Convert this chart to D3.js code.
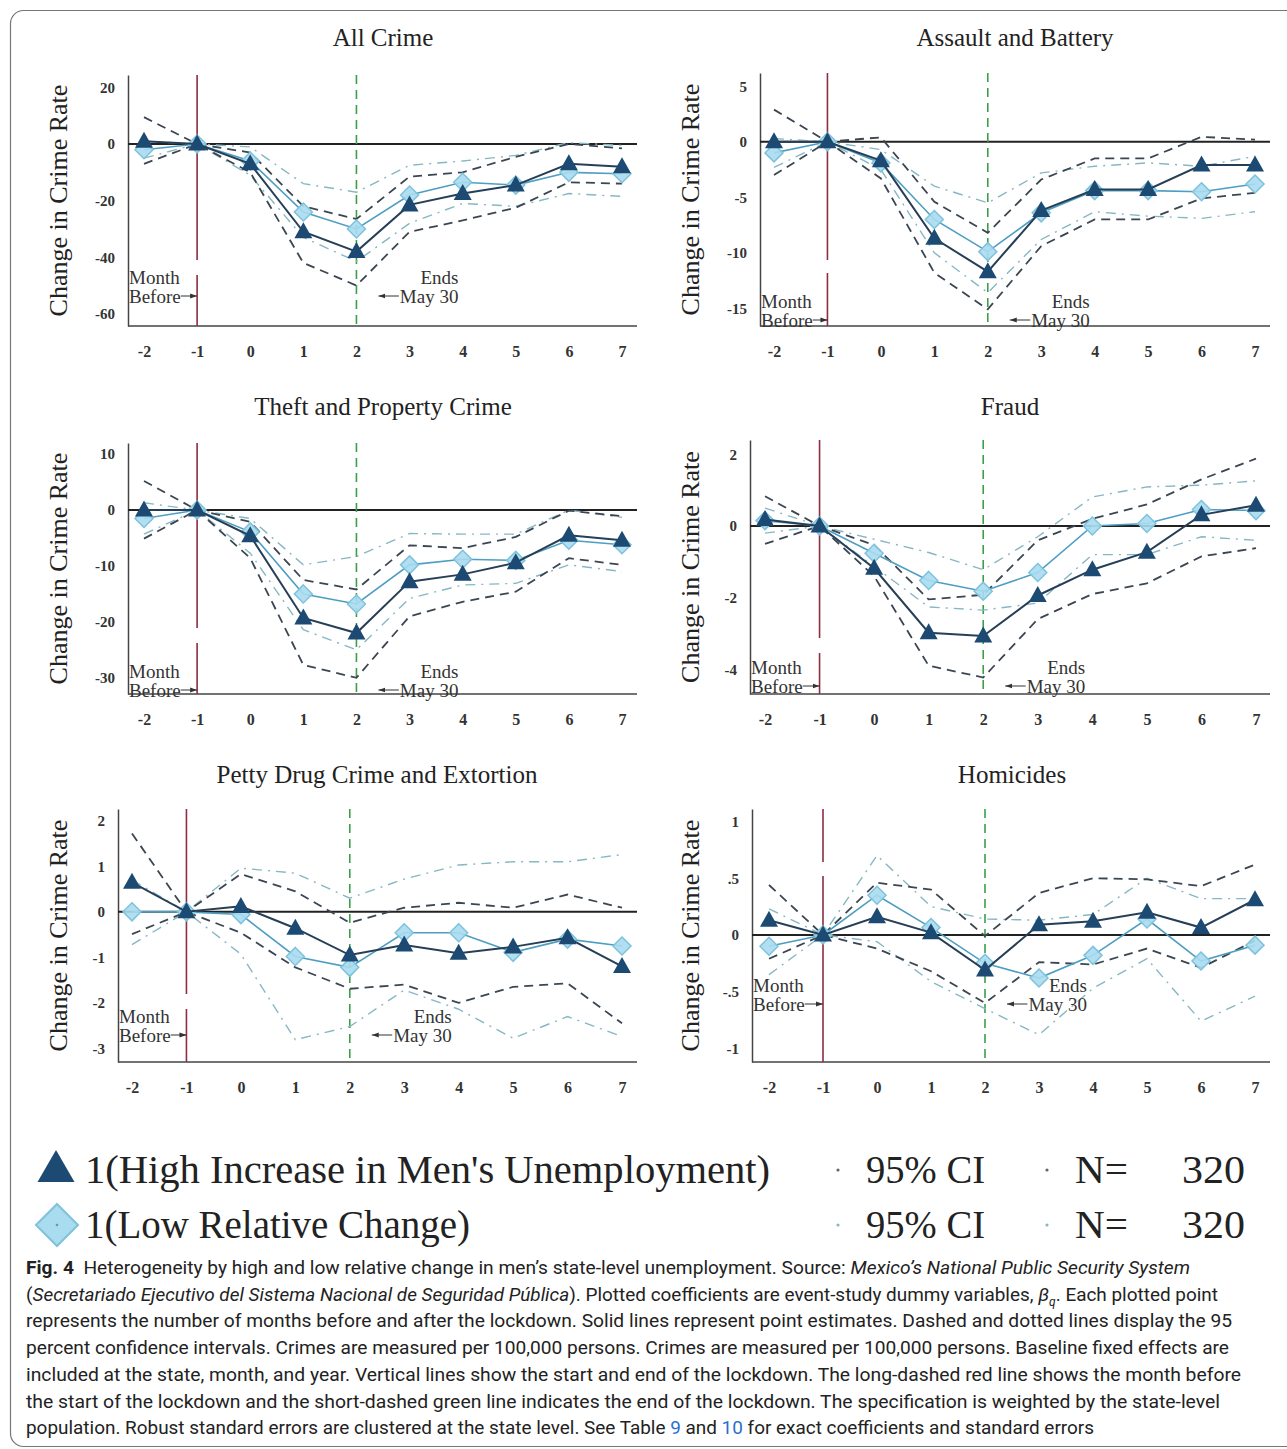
<!DOCTYPE html>
<html><head><meta charset="utf-8">
<script src="https://cdn.jsdelivr.net/npm/d3@7"></script>
<style>body{margin:0;background:#fff}</style>
</head><body>
<svg id="fig" width="1287" height="1449"></svg>
<script>
// ---------- data ----------
const months = [-2, -1, 0, 1, 2, 3, 4, 5, 6, 7];
const monthLabels = ["-2", "-1", "0", "1", "2", "3", "4", "5", "6", "7"];
const panelTitles = ["All Crime", "Assault and Battery", "Theft and Property Crime", "Fraud", "Petty Drug Crime and Extortion", "Homicides"];
const yTickValues = [[20, 0, -20, -40, -60], [5, 0, -5, -10, -15], [10, 0, -10, -20, -30], [2, 0, -2, -4], [2, 1, 0, -1, -2, -3], [1, 0.5, 0, -0.5, -1]];
const yTickLabels = [["20", "0", "-20", "-40", "-60"], ["5", "0", "-5", "-10", "-15"], ["10", "0", "-10", "-20", "-30"], ["2", "0", "-2", "-4"], ["2", "1", "0", "-1", "-2", "-3"], ["1", ".5", "0", "-.5", "-1"]];

// All Crime
const allHigh   = [1, 0, -7, -31, -38, -21.5, -17.5, -14.5, -7, -8];
const allLow    = [-2, 0, -6, -24, -30, -18, -13.5, -14.5, -10, -10.5];
const allHighUp = [9.5, 0, -3, -22, -26.5, -11.5, -10, -4.5, 0, -1.5];
const allHighLo = [-7, 0, -10, -42, -50, -31, -27, -22.5, -13.5, -14];
const allLowUp  = [1, 0, -1, -14, -17, -7.5, -6, -4, 0.5, -0.5];
const allLowLo  = [-5, 0, -11, -33, -41.5, -28, -21, -22, -17.5, -18.5];
// Assault and Battery
const asbHigh   = [0, 0, -1.7, -8.7, -11.7, -6.2, -4.3, -4.3, -2.1, -2.1];
const asbLow    = [-1.0, 0, -1.9, -7.0, -9.9, -6.4, -4.4, -4.4, -4.5, -3.8];
const asbHighUp = [2.9, 0, 0.4, -5.4, -8.2, -3.4, -1.5, -1.5, 0.45, 0.2];
const asbHighLo = [-3.0, 0, -3.3, -11.8, -15.1, -9.4, -7.0, -7.0, -5.1, -4.6];
const asbLowUp  = [0.3, 0, -0.7, -4.0, -5.5, -2.8, -2.2, -1.9, -2.2, -1.3];
const asbLowLo  = [-2.3, 0, -2.5, -10.0, -13.6, -8.8, -6.3, -6.7, -6.9, -6.3];
// Theft and Property Crime
const thfHigh   = [0, 0, -4.6, -19.3, -22, -12.8, -11.5, -9.4, -4.5, -5.4];
const thfLow    = [-1.5, 0, -3.9, -15, -16.8, -9.8, -8.8, -9.0, -5.4, -6.2];
const thfHighUp = [5.2, 0, -2.1, -12.5, -14.2, -6.3, -6.8, -4.8, -0.1, -1.1];
const thfHighLo = [-5.1, 0, -8.6, -27.7, -30, -19, -16.4, -14.6, -8.6, -9.8];
const thfLowUp  = [1.3, 0, -1.5, -9.8, -8.3, -4.2, -4.3, -4.3, 0, -1.3];
const thfLowLo  = [-4.3, 0, -7.7, -21.4, -25, -15.8, -13.4, -13.1, -9.8, -11];
// Fraud
const frdHigh   = [0.18, 0, -1.18, -2.98, -3.07, -1.94, -1.22, -0.73, 0.31, 0.58];
const frdLow    = [0.15, 0, -0.76, -1.52, -1.82, -1.3, 0, 0.07, 0.46, 0.43];
const frdHighUp = [0.83, 0, -0.53, -2.05, -1.92, -0.4, 0.2, 0.6, 1.3, 1.88];
const frdHighLo = [-0.5, 0, -1.4, -3.9, -4.23, -2.6, -1.9, -1.6, -0.85, -0.62];
const frdLowUp  = [0.5, 0, -0.37, -0.74, -1.22, -0.3, 0.81, 1.09, 1.14, 1.26];
const frdLowLo  = [-0.2, 0, -1.13, -2.26, -2.35, -2.15, -0.8, -0.8, -0.3, -0.4];
// Petty Drug Crime and Extortion
const drgHigh   = [0.65, 0, 0.12, -0.36, -0.95, -0.73, -0.91, -0.77, -0.57, -1.2];
const drgLow    = [0, 0, -0.06, -0.98, -1.22, -0.46, -0.46, -0.89, -0.6, -0.75];
const drgHighUp = [1.72, 0, 0.83, 0.45, -0.24, 0.09, 0.2, 0.09, 0.38, 0.09];
const drgHighLo = [-0.49, 0, -0.46, -1.22, -1.69, -1.6, -2.0, -1.65, -1.57, -2.45];
const drgLowUp  = [0.7, 0, 0.96, 0.85, 0.3, 0.72, 1.03, 1.1, 1.1, 1.26];
const drgLowLo  = [-0.72, 0, -0.93, -2.81, -2.52, -1.72, -2.14, -2.78, -2.3, -2.74];
// Homicides
const homHigh   = [0.13, 0, 0.16, 0.02, -0.31, 0.09, 0.12, 0.2, 0.065, 0.31];
const homLow    = [-0.1, 0, 0.35, 0.065, -0.25, -0.38, -0.18, 0.14, -0.23, -0.09];
const homHighUp = [0.44, 0, 0.46, 0.4, -0.01, 0.37, 0.5, 0.49, 0.43, 0.62];
const homHighLo = [-0.21, 0, -0.12, -0.32, -0.6, -0.24, -0.26, -0.12, -0.29, -0.05];
const homLowUp  = [0.23, 0, 0.7, 0.25, 0.14, 0.13, 0.18, 0.5, 0.32, 0.32];
const homLowLo  = [-0.35, 0, -0.06, -0.41, -0.65, -0.88, -0.47, -0.21, -0.76, -0.54];

const legendLabels = ["1(High Increase in Men's Unemployment)", "1(Low Relative Change)"];
const ciLabel = "95% CI";
const nLabel = "N=";
const nValues = ["320", "320"];

// ---------- assemble ----------
const series = [
  [allHigh, allLow, allHighUp, allHighLo, allLowUp, allLowLo],
  [asbHigh, asbLow, asbHighUp, asbHighLo, asbLowUp, asbLowLo],
  [thfHigh, thfLow, thfHighUp, thfHighLo, thfLowUp, thfLowLo],
  [frdHigh, frdLow, frdHighUp, frdHighLo, frdLowUp, frdLowLo],
  [drgHigh, drgLow, drgHighUp, drgHighLo, drgLowUp, drgLowLo],
  [homHigh, homLow, homHighUp, homHighLo, homLowUp, homLowLo]
];

// layout (pixels / axis extents)
const layout = [
  {x0:128, x1:637, xa:144, xb:622, yTop:75,  yBot:326,  yMin:-64.3, yMax:24.4, tx:383,  ty:46,  yl:58,  ann:-49, red:"185,15,600"},
  {x0:760, x1:1270,xa:774, xb:1255,yTop:73,  yBot:326,  yMin:-16.6, yMax:6.2,  tx:1015, ty:46,  yl:690, ann:-25, red:"187,13,600"},
  {x0:128, x1:637, xa:144, xb:622, yTop:443, yBot:694,  yMin:-32.9, yMax:12,   tx:383,  ty:415, yl:58,  ann:-23, red:"185,15,600"},
  {x0:750, x1:1270,xa:765, xb:1256,yTop:440, yBot:694,  yMin:-4.69, yMax:2.4,  tx:1010, ty:415, yl:690, ann:-27, red:"198,15,600"},
  {x0:118, x1:637, xa:132, xb:622, yTop:809, yBot:1062, yMin:-3.3,  yMax:2.26, tx:377,  ty:783, yl:58,  ann:-46, red:"185,15,600"},
  {x0:752, x1:1270,xa:769, xb:1255,yTop:809, yBot:1062, yMin:-1.12, yMax:1.11, tx:1012, ty:783, yl:690, ann:-77, red:"53,14,600"}
];

const serif = "'Liberation Serif','Times New Roman',serif";
const C = {
  high: "#1c4a72", highLine: "#263f57", low: "#a9dcef", lowStroke: "#7ec2dc", lowLine: "#4d9ec2",
  ciHigh: "#3b4652", ciLow: "#86b8c3", red: "#8c2f42", green: "#3a9f47", axis: "#444"
};

const svg = d3.select("#fig");
const defs = svg.append("defs");
defs.append("marker").attr("id","arr").attr("viewBox","0 0 10 10").attr("refX",10).attr("refY",5)
  .attr("markerWidth",7).attr("markerHeight",7).attr("orient","auto")
  .append("path").attr("d","M0,1.5 L10,5 L0,8.5 z").attr("fill","#333");

// border
svg.append("rect").attr("x",10.5).attr("y",10.5).attr("width",1300).attr("height",1436).attr("rx",13)
  .attr("fill","none").attr("stroke","#777").attr("stroke-width",1.2);

const triPath = "M0,-9.5 L9,6.5 L-9,6.5 Z";
const diaPath = "M0,-9 L9,0 L0,9 L-9,0 Z";

series.forEach((s, i) => {
  const L = layout[i];
  const x = d3.scaleLinear().domain([-2, 7]).range([L.xa, L.xb]);
  const y = d3.scaleLinear().domain([L.yMin, L.yMax]).range([L.yBot, L.yTop]);
  const g = svg.append("g");

  g.append("text").attr("x", L.tx).attr("y", L.ty).attr("text-anchor","middle")
    .style("font-family", serif).style("font-size","25px").attr("fill","#222").text(panelTitles[i]);
  g.append("text").attr("transform", `translate(${L.yl},${(L.yTop + L.yBot) / 2}) rotate(-90)`)
    .attr("text-anchor","middle").attr("dominant-baseline","central")
    .style("font-family", serif).style("font-size","26px").attr("fill","#222").text("Change in Crime Rate");

  // y axis
  const ya = g.append("g").attr("transform", `translate(${L.x0},0)`)
    .call(d3.axisLeft(y).tickValues(yTickValues[i]).tickFormat((d, j) => yTickLabels[i][j]).tickSize(0).tickPadding(13));
  ya.select(".domain").attr("stroke", C.axis).attr("stroke-width", 1.5);
  ya.selectAll("text").style("font-family", serif).style("font-size","15px").style("font-weight","600").attr("fill","#333");
  // x axis
  const xa = g.append("g").attr("transform", `translate(0,${L.yBot})`)
    .call(d3.axisBottom(x).tickValues(months).tickFormat((d, j) => monthLabels[j]).tickSize(0).tickPadding(20));
  xa.select(".domain").remove();
  xa.selectAll("text").style("font-family", serif).style("font-size","16px").style("font-weight","600").attr("fill","#333");
  g.append("line").attr("x1", L.x0).attr("x2", L.x1).attr("y1", L.yBot).attr("y2", L.yBot)
    .attr("stroke", C.axis).attr("stroke-width", 1.5);

  // zero line
  g.append("line").attr("x1", L.x0).attr("x2", L.x1).attr("y1", y(0)).attr("y2", y(0))
    .attr("stroke", "#222").attr("stroke-width", 2);

  // vertical reference lines
  g.append("line").attr("x1", x(-1)).attr("x2", x(-1)).attr("y1", L.yTop).attr("y2", L.yBot)
    .attr("stroke", C.red).attr("stroke-width", 1.6).attr("stroke-dasharray", L.red);
  g.append("line").attr("x1", x(2)).attr("x2", x(2)).attr("y1", L.yTop).attr("y2", L.yBot)
    .attr("stroke", C.green).attr("stroke-width", 1.6).attr("stroke-dasharray", "9,6");

  const line = d3.line().x((d, j) => x(months[j])).y(d => y(d));
  const [hi, lo, hiU, hiL, loU, loL] = s;
  [loU, loL].forEach(arr => g.append("path").attr("d", line(arr)).attr("fill","none")
    .attr("stroke", C.ciLow).attr("stroke-width", 1.4).attr("stroke-dasharray","10,6,2,6"));
  [hiU, hiL].forEach(arr => g.append("path").attr("d", line(arr)).attr("fill","none")
    .attr("stroke", C.ciHigh).attr("stroke-width", 1.8).attr("stroke-dasharray","9,6"));

  g.append("path").attr("d", line(lo)).attr("fill","none").attr("stroke", C.lowLine).attr("stroke-width", 1.6);
  g.selectAll(".dia").data(lo).enter().append("path").attr("d", diaPath)
    .attr("transform", (d, j) => `translate(${x(months[j])},${y(d)})`)
    .attr("fill", C.low).attr("fill-opacity", 0.9).attr("stroke", C.lowStroke).attr("stroke-width", 1.5);
  g.append("path").attr("d", line(hi)).attr("fill","none").attr("stroke", C.highLine).attr("stroke-width", 2);
  g.selectAll(".tri").data(hi).enter().append("path").attr("d", triPath)
    .attr("transform", (d, j) => `translate(${x(months[j])},${y(d)})`)
    .attr("fill", C.high);

  // annotations
  const ay = L.yBot + L.ann;
  const addText = (tx, ty, anchor, str) => g.append("text").attr("x", tx).attr("y", ty).attr("text-anchor", anchor)
      .attr("dominant-baseline","central").attr("fill","#333")
      .style("font-family", serif).style("font-size","19px").text(str);
  addText(L.x0 + 1, ay, "start", "Month");
  const bt = addText(L.x0 + 1, ay + 19, "start", "Before");
  const bw = bt.node().getComputedTextLength();
  g.append("line").attr("x1", L.x0 + 1 + bw).attr("x2", x(-1)).attr("y1", ay + 19).attr("y2", ay + 19)
    .attr("stroke","#333").attr("stroke-width",1).attr("marker-end","url(#arr)");
  const ex = x(2) + 102;
  addText(ex, ay, "end", "Ends");
  const mt = addText(ex, ay + 19, "end", "May 30");
  const mw = mt.node().getComputedTextLength();
  g.append("line").attr("x1", ex - mw - 1).attr("x2", x(2) + 22).attr("y1", ay + 19).attr("y2", ay + 19)
    .attr("stroke","#333").attr("stroke-width",1).attr("marker-end","url(#arr)");
});

// ---------- legend ----------
const lg = svg.append("g");
const rows = [1183, 1238];
lg.append("path").attr("d","M0,-17 L18.5,15 L-18.5,15 Z").attr("transform","translate(56,1167)").attr("fill", C.high);
lg.append("path").attr("d","M0,-21 L21,0 L0,21 L-21,0 Z").attr("transform","translate(57,1225)")
  .attr("fill", C.low).attr("stroke", C.lowStroke).attr("stroke-width", 2);
lg.append("circle").attr("cx",57).attr("cy",1225).attr("r",1.3).attr("fill","#5a9db5");
const lw = [685, 385];
rows.forEach((by, r) => {
  const st = t => t.style("font-family", serif).style("font-size","40px").attr("fill","#222");
  st(lg.append("text").attr("x",85).attr("y",by).attr("textLength", lw[r]).attr("lengthAdjust","spacingAndGlyphs").text(legendLabels[r]));
  lg.append("circle").attr("cx",838).attr("cy",by - 13).attr("r",1.6).attr("fill", r === 0 ? "#666" : C.ciLow);
  st(lg.append("text").attr("x",866).attr("y",by).attr("textLength",119).attr("lengthAdjust","spacingAndGlyphs").text(ciLabel));
  lg.append("circle").attr("cx",1047).attr("cy",by - 13).attr("r",1.6).attr("fill", r === 0 ? "#666" : C.ciLow);
  st(lg.append("text").attr("x",1075).attr("y",by).attr("textLength",53).attr("lengthAdjust","spacingAndGlyphs").text(nLabel));
  st(lg.append("text").attr("x",1182).attr("y",by).attr("textLength",63).attr("lengthAdjust","spacingAndGlyphs").text(nValues[r]));
});

// ---------- caption ----------
const caption = [
  [["Fig. 4","b"],["  Heterogeneity by high and low relative change in men’s state-level unemployment. Source: ",""],["Mexico’s National Public Security System","i"]],
  [["(",""],["Secretariado Ejecutivo del Sistema Nacional de Seguridad Pública","i"],["). Plotted coefficients are event-study dummy variables, ",""],["β","i"],["q","sub"],[". Each plotted point",""]],
  [["represents the number of months before and after the lockdown. Solid lines represent point estimates. Dashed and dotted lines display the 95",""]],
  [["percent confidence intervals. Crimes are measured per 100,000 persons. Crimes are measured per 100,000 persons. Baseline fixed effects are",""]],
  [["included at the state, month, and year. Vertical lines show the start and end of the lockdown. The long-dashed red line shows the month before",""]],
  [["the start of the lockdown and the short-dashed green line indicates the end of the lockdown. The specification is weighted by the state-level",""]],
  [["population. Robust standard errors are clustered at the state level. See Table ",""],["9","link"],[" and ",""],["10","link"],[" for exact coefficients and standard errors",""]]
];
const capEnds = [1190, 1218, 1232, 1229, 1241, 1220, 1094];
caption.forEach((parts, k) => {
  const t = svg.append("text").attr("x", 26).attr("y", 1274 + k * 26.7)
    .attr("textLength", capEnds[k] - 26).attr("lengthAdjust","spacingAndGlyphs")
    .style("font-family","Roboto, 'Open Sans', sans-serif").style("font-size","19px").style("white-space","pre").attr("fill","#222");
  parts.forEach(([str, sty]) => {
    const ts = t.append("tspan").text(str);
    if (sty === "b") ts.style("font-weight","bold");
    if (sty === "i") ts.style("font-style","italic");
    if (sty === "sub") { ts.style("font-size","12px").attr("dy", 5).style("font-style","italic"); }
    if (sty === "link") ts.attr("fill","#2a6fd0");
    if (k === 1 && str.startsWith(". Each")) ts.attr("dy", -5);
  });
});
</script>
</body></html>
